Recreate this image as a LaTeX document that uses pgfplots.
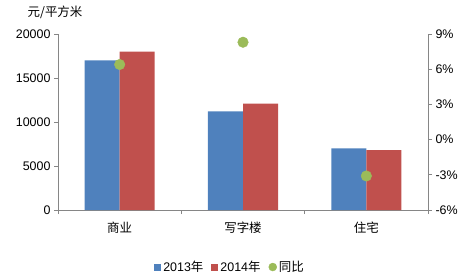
\documentclass[border=0pt]{standalone}
\usepackage{pgfplots}
\pgfplotsset{compat=1.18}
\usepackage{fontspec}
\setmainfont{Liberation Sans}
\newfontfamily\cjk{Noto Sans CJK SC}
\definecolor{cblue}{HTML}{4F81BD}
\definecolor{cred}{HTML}{C0504D}
\definecolor{cgreen}{HTML}{9BBB59}
\definecolor{cgray}{HTML}{868686}
\begin{document}
\begin{tikzpicture}
\begin{axis}[
  name=main, anchor=south west, at={(0,0)},
  scale only axis, width=370bp, height=176bp,
  clip=false,
  xmin=-0.5, xmax=2.5, ymin=0, ymax=20000,
  axis x line*=bottom, axis y line*=left,
  axis line style={draw=cgray, line width=0.8bp, -},
  xtick={0,1,2}, xticklabels={{\cjk 商业},{\cjk 写字楼},{\cjk 住宅}},
  major x tick style={draw=none},
  minor xtick={-0.5,0.5,1.5,2.5},
  minor x tick style={draw=cgray, line width=0.8bp},
  minor tick length=4bp,
  ytick={0,5000,10000,15000,20000},
  scaled y ticks=false,
  y tick style={draw=cgray, line width=0.8bp},
  major tick length=4bp,
  tick align=outside,
  tick label style={font=\fontsize{12.5}{14}\selectfont, text=black},
  /pgf/number format/1000 sep={},
  /pgf/number format/assume math mode=true,
  xticklabel style={yshift=-4bp},
  ybar, bar width=0.284,
  legend style={draw=none, at={(0.465,-0.324)}, anchor=center, legend columns=3,
    font=\fontsize{12.5}{14}\selectfont, inner sep=0pt,
    /tikz/every even column/.append style={column sep=6bp}},
  legend image code/.code={\fill[#1] (0bp,-3.5bp) rectangle (7bp,3.5bp);},
]
\addplot[fill=cblue, draw=none, bar shift=-0.142] coordinates {(0,17000) (1,11200) (2,7000)};
\addlegendentry{2013{\cjk 年}}
\addplot[fill=cred, draw=none, bar shift=0.142] coordinates {(0,18000) (1,12100) (2,6800)};
\addlegendentry{2014{\cjk 年}}
\addlegendimage{legend image code/.code={\fill[cgreen] (3.5bp,0) circle (4bp);}}
\addlegendentry{\cjk 同比}
\path (rel axis cs:-0.1568,-0.3977) rectangle (rel axis cs:1.1162,1.1932);
\node[anchor=center, font=\fontsize{12.5}{14}\selectfont] at (rel axis cs:-0.008,1.125) {\cjk 元/平方米};
\end{axis}
\begin{axis}[
  anchor=south west, at={(0,0)},
  scale only axis, width=370bp, height=176bp,
  xmin=-0.5, xmax=2.5, ymin=-6, ymax=9,
  axis x line*=bottom, x axis line style={draw=none}, xtick=\empty,
  axis y line*=right,
  y axis line style={draw=cgray, line width=0.8bp, -},
  ytick={-6,-3,0,3,6,9},
  yticklabel={\pgfmathprintnumber{\tick}\%},
  y tick style={draw=cgray, line width=0.8bp},
  major tick length=4bp,
  tick align=outside,
  tick label style={font=\fontsize{12.5}{14}\selectfont, text=black},
  /pgf/number format/assume math mode=true,
]
\addplot[only marks, mark=*, mark size=5.3bp, mark options={fill=cgreen, draw=cgreen}] coordinates {(0,6.4) (1,8.3) (2,-3.1)};
\end{axis}
\end{tikzpicture}
\end{document}
